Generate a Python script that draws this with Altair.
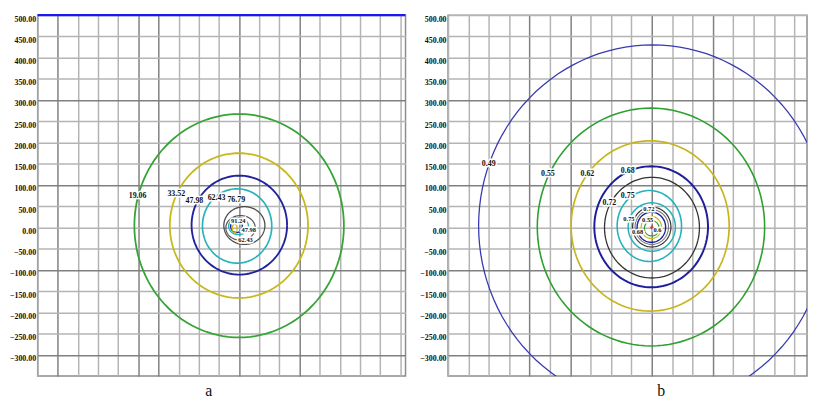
import altair as alt
import pandas as pd
import numpy as np

# ---------------- data ----------------
# Panel a: contour rings (level, colour, left / right / bottom / top extents in data units)
a_levels = ["19.06", "33.52", "47.98", "62.43", "76.79", "91.24", "62.43", "47.98", "33.52"]
a_colors = ["#36a336", "#c8b81c", "#22229e", "#27b3bc", "#4d4d4d", "#555555", "#27b3bc", "#22229e", "#c8b81c"]
a_left   = [-260, -172, -118, -91, -38, -33, -26, -21, -17]
a_right  = [260, 171, 119, 81, 64, 40, 23, 8, -5]
a_bottom = [-259, -166, -111, -84, -40, -30, -17, -12, -12]
a_top    = [267, 175, 122, 91, 49, 28, 23, 19, 8]
a_width  = [1.8, 1.8, 1.9, 1.7, 1.3, 1.2, 1.4, 1.5, 1.3]

# Panel a: contour labels
a_lab_text = ["19.06", "33.52", "47.98", "62.43", "76.79", "91.24", "47.98", "62.43"]
a_lab_x    = [-252, -156, -111, -56, -7, -2, 24, 16]
a_lab_y    = [75, 79, 62, 70, 64, 16, -6, -30]
a_lab_size = [8, 8, 8, 8, 8, 6.5, 6.5, 6.5]

# Panel a: blue line along the top edge
a_top_line = [500]

# Panel b: contour rings
b_levels = ["0.49", "0.55", "0.62", "0.68", "0.72", "0.75", "0.75", "0.72", "0.70", "0.68", "0.62", "0.55"]
b_colors = ["#3a3ab0", "#2f9f2f", "#c8b51e", "#1e1e9c", "#333333", "#22b2bd", "#22b2bd", "#333333", "#777777", "#1e1e9c", "#c8b51e", "#2f9f2f"]
b_left   = [-425, -281, -198, -141, -116, -85, -58, -47, -41, -36, -26, -18]
b_right  = [429, 277, 190, 138, 117, 73, 58, 47, 41, 34, 24, 18]
b_bottom = [-422, -279, -197, -141, -119, -80, -56, -46, -40, -35, -26, -20]
b_top    = [430, 281, 204, 144, 118, 87, 58, 48, 42, 36, 26, 16]
b_width  = [1.3, 1.6, 1.7, 2.0, 1.3, 1.6, 1.5, 1.2, 1.1, 1.4, 1.2, 1.2]

# Panel b: contour labels
b_lab_text = ["0.49", "0.55", "0.62", "0.68", "0.72", "0.75", "0.72", "0.75", "0.55", "0.68", "0.6"]
b_lab_x    = [-400, -255, -158, -59, -104, -59, -7, -56, -10, -35, 14]
b_lab_y    = [149, 126, 127, 134, 57, 75, 43, 19, 17, -10, -5]
b_lab_size = [8, 8, 8, 8, 8, 8, 6.5, 6.5, 6.5, 6.5, 6.5]

# Source point in panel b
src_x = [0]
src_y = [0]

# Axis ticks / grid
y_ticks = list(range(-300, 501, 50))
x_ticks = list(range(-500, 401, 50))
a_dark_x = [-450, -250, -200, 0, 150]
b_dark_x = [-300, -200, 0, 150]
dark_y = [300, 100, -100, -300]

LIGHT = "#b4b4b4"
DARK = "#808080"
SERIF = "Liberation Serif"


def ring_frame(levels, colors, left, right, bottom, top, widths):
    rows = []
    ang = np.linspace(0, 2 * np.pi, 121)
    for i, (lv, c, l, r, b, t, w) in enumerate(zip(levels, colors, left, right, bottom, top, widths)):
        cx, cy = (l + r) / 2, (b + t) / 2
        rx, ry = (r - l) / 2, (t - b) / 2
        for k, a in enumerate(ang):
            rows.append({"ring": i, "k": k, "x": cx + rx * np.cos(a), "y": cy + ry * np.sin(a),
                         "color": c, "w": w, "level": lv})
    return pd.DataFrame(rows)


def panel(rings, labels, xdom, width, caption, cap_dx, dark_x, top_line=None, source=None):
    grid_x = {"condition": {"test": f"indexof({dark_x}, datum.value) >= 0", "value": DARK}, "value": LIGHT}
    grid_y = {"condition": {"test": f"indexof({dark_y}, datum.value) >= 0", "value": DARK}, "value": LIGHT}
    xenc = alt.X("x:Q", scale=alt.Scale(domain=xdom, nice=False, zero=False),
                 axis=alt.Axis(values=x_ticks, labels=False, ticks=False, domain=False, grid=True,
                               gridColor=grid_x, gridWidth=1.5, title=None))
    yenc = alt.Y("y:Q", scale=alt.Scale(domain=[-350, 500], nice=False, zero=False),
                 axis=alt.Axis(values=y_ticks, format=".2f", ticks=False, domain=False, grid=True,
                               gridColor=grid_y, gridWidth=1.5, title=None,
                               labelFont=SERIF, labelFontWeight="bold", labelFontSize=8,
                               labelColor="#111111", labelPadding=2, labelOffset=4,
                               labelOverlap=False, labelBound=False, labelFlush=False,
                               minExtent=27, maxExtent=27))
    lines = alt.Chart(rings).mark_line(clip=True).encode(
        x=xenc, y=yenc, detail="ring:N", order="k:Q",
        color=alt.Color("color:N", scale=None),
        strokeWidth=alt.StrokeWidth("w:Q", scale=None),
    )
    halo = alt.Chart(labels).mark_text(font=SERIF, fontWeight="bold", stroke="white",
                                       strokeWidth=3, color="white").encode(
        x=xenc, y=yenc, text="t:N", size=alt.Size("s:Q", scale=None))
    text = alt.Chart(labels).mark_text(font=SERIF, fontWeight="bold", color="#111111").encode(
        x=xenc, y=yenc, text="t:N", size=alt.Size("s:Q", scale=None))
    layers = [lines, halo, text]
    if top_line is not None:
        layers.append(alt.Chart(pd.DataFrame({"y": top_line})).mark_rule(
            color="#1a1aee", strokeWidth=2.2).encode(y=yenc))
    if source is not None:
        layers.append(alt.Chart(source).mark_point(shape="cross", color="red", filled=True,
                                                   size=14).encode(x=xenc, y=yenc))
    return alt.layer(*layers).properties(
        width=width, height=365,
        title=alt.TitleParams(caption, orient="bottom", font=SERIF, fontSize=16,
                              fontWeight="normal", color="#111111", dx=cap_dx, offset=20,
                              baseline="alphabetic"),
    )


ra = ring_frame(a_levels, a_colors, a_left, a_right, a_bottom, a_top, a_width)
rb = ring_frame(b_levels, b_colors, b_left, b_right, b_bottom, b_top, b_width)
la = pd.DataFrame({"t": a_lab_text, "x": a_lab_x, "y": a_lab_y, "s": a_lab_size})
lb = pd.DataFrame({"t": b_lab_text, "x": b_lab_x, "y": b_lab_y, "s": b_lab_size})
src = pd.DataFrame({"x": src_x, "y": src_y})

pa = panel(ra, la, [-500, 413], 372, "a", -13, a_dark_x, top_line=a_top_line)
pb = panel(rb, lb, [-500, 381], 363, "b", 34, b_dark_x, source=src)

chart = alt.hconcat(pa, pb, spacing=11).properties(
    padding={"left": 0, "top": 3, "right": 0, "bottom": 0}
).configure_view(stroke="#8c8c8c", strokeWidth=1.5)

chart.save("out.html", embed_options={"renderer": "svg", "actions": False})
